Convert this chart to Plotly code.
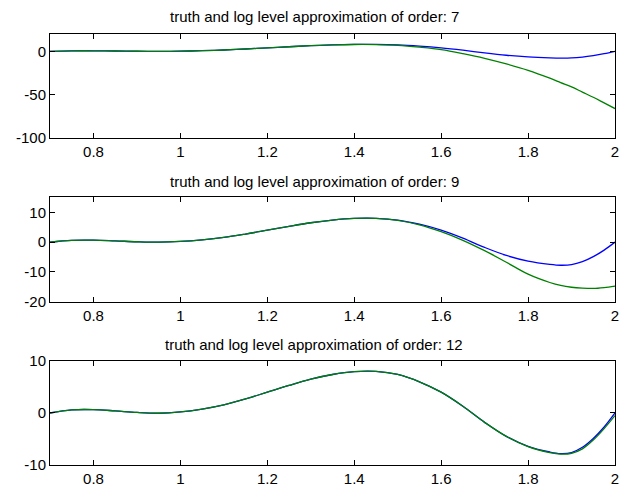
import plotly.graph_objects as go

# x grid
x = [0.70, 0.75, 0.80, 0.85, 0.90, 0.95, 1.00, 1.05, 1.10, 1.15, 1.20, 1.25, 1.30,
     1.35, 1.40, 1.45, 1.50, 1.55, 1.60, 1.65, 1.70, 1.75, 1.80, 1.85, 1.875, 1.90,
     1.925, 1.95, 1.975, 2.00]

truth = [0.0, 0.6, 0.65, 0.4, 0.1, -0.05, 0.2, 0.75, 1.55, 2.7, 4.0, 5.3, 6.5,
         7.4, 7.95, 8.0, 7.4, 6.0, 4.0, 1.3, -1.8, -4.5, -6.4, -7.5, -7.8, -7.6,
         -6.6, -4.9, -2.7, 0.0]

approx7 = [0.0, 0.6, 0.65, 0.4, 0.1, -0.05, 0.2, 0.75, 1.55, 2.7, 4.0, 5.3, 6.5,
           7.4, 7.9, 7.8, 6.9, 4.8, 2.0, -2.6, -8.0, -14.5, -22.0, -31.0, -36.0, -41.0,
           -47.0, -53.0, -59.5, -66.0]

approx9 = [0.0, 0.6, 0.65, 0.4, 0.1, -0.05, 0.2, 0.75, 1.55, 2.7, 4.0, 5.3, 6.5,
           7.4, 7.95, 7.95, 7.3, 5.8, 3.5, 0.6, -2.9, -6.8, -10.8, -13.6, -14.6, -15.2,
           -15.5, -15.6, -15.3, -14.8]

approx12 = [0.0, 0.6, 0.65, 0.4, 0.1, -0.05, 0.2, 0.75, 1.55, 2.7, 4.0, 5.3, 6.5,
            7.4, 7.95, 8.0, 7.4, 6.0, 4.0, 1.3, -1.8, -4.5, -6.45, -7.6, -7.9, -7.75,
            -6.9, -5.2, -3.0, -0.5]

orders = [7, 9, 12]
approxs = [approx7, approx9, approx12]
y_ranges = [[-100, 20], [-20, 15], [-10, 10]]
y_ticks = [[-100, -50, 0], [-20, -10, 0, 10], [-10, 0, 10]]
x_ticks = [0.8, 1.0, 1.2, 1.4, 1.6, 1.8, 2.0]
x_ticktext = ["0.8", "1", "1.2", "1.4", "1.6", "1.8", "2"]

W, H = 625, 493
ML, MR, MT, MB = 50, 6, 34, 24
PH = H - MT - MB  # 435
plot_tops = [34, 199, 364]
plot_h = 105
title_y_px = [16, 183, 347]

fig = go.Figure()
layout_axes = {}
for i in range(3):
    ax = "" if i == 0 else str(i + 1)
    top = plot_tops[i]
    bot = top + plot_h
    d0 = (H - MB - bot) / PH
    d1 = (H - MB - top) / PH
    fig.add_trace(go.Scatter(x=x, y=truth, mode="lines",
                             line=dict(color="#0000ff", width=1.3, shape="spline"),
                             xaxis="x" + ax, yaxis="y" + ax, showlegend=False))
    fig.add_trace(go.Scatter(x=x, y=approxs[i], mode="lines",
                             line=dict(color="#008000", width=1.3, shape="spline"),
                             xaxis="x" + ax, yaxis="y" + ax, showlegend=False))
    common = dict(showline=True, linecolor="black", linewidth=1, mirror="ticks",
                  ticks="inside", ticklen=5, tickcolor="black", tickwidth=1,
                  showgrid=False, zeroline=False,
                  tickfont=dict(family="Liberation Sans, Arial, sans-serif", size=15, color="black"))
    layout_axes["xaxis" + ax] = dict(range=[0.7, 2.0], domain=[0, 1], anchor="y" + ax,
                                     tickvals=x_ticks, ticktext=x_ticktext, **common)
    layout_axes["yaxis" + ax] = dict(range=y_ranges[i], domain=[d0, d1], anchor="x" + ax,
                                     tickvals=y_ticks[i], ticktext=[str(v) for v in y_ticks[i]],
                                     **common)

annotations = []
for i in range(3):
    annotations.append(dict(
        text="truth and log level approximation of order: %d" % orders[i],
        xref="paper", yref="paper",
        x=(316 - ML) / (W - ML - MR), y=(H - MB - title_y_px[i]) / PH,
        xanchor="center", yanchor="middle", showarrow=False,
        font=dict(family="Liberation Sans Narrow, Liberation Sans, Arial, sans-serif",
                  size=15, color="black")))

fig.update_layout(width=W, height=H, margin=dict(l=ML, r=MR, t=MT, b=MB),
                  paper_bgcolor="white", plot_bgcolor="white",
                  annotations=annotations, **layout_axes)

fig.write_html("out.html")
